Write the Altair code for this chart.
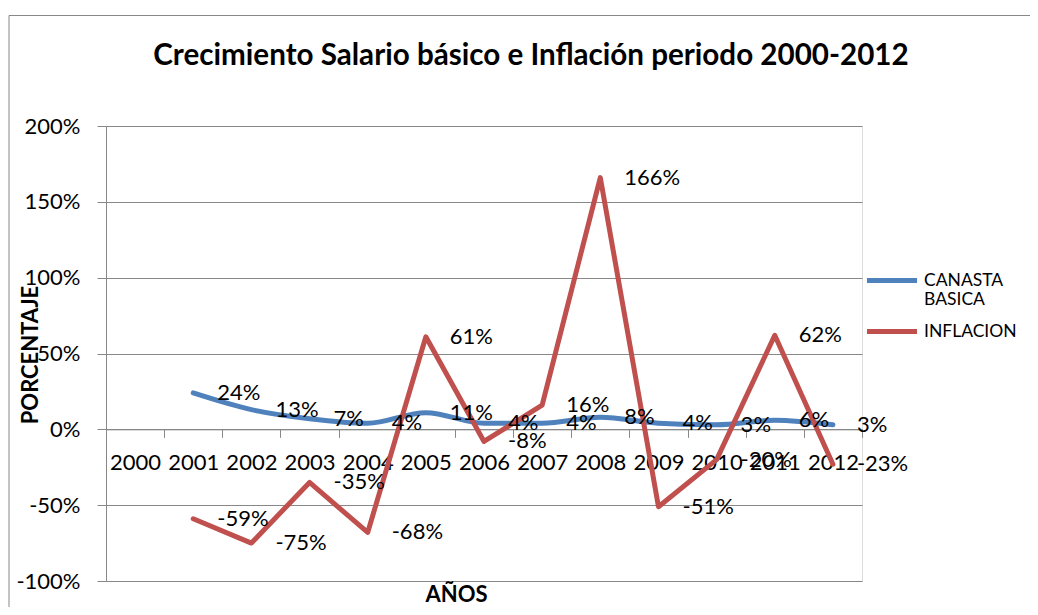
import altair as alt
import pandas as pd

# ---- data ----
years_axis = [str(y) for y in range(2000, 2013)]
years = [str(y) for y in range(2001, 2013)]
canasta = [0.24, 0.13, 0.07, 0.04, 0.11, 0.04, 0.04, 0.08, 0.04, 0.03, 0.06, 0.03]
inflacion = [-0.59, -0.75, -0.35, -0.68, 0.61, -0.08, 0.16, 1.66, -0.51, -0.20, 0.62, -0.23]
series_names = ["CANASTA BASICA", "INFLACION"]
series_colors = ["#4F81BD", "#C0504D"]
y_ticks = [-1, -0.5, 0, 0.5, 1, 1.5, 2]

df = pd.DataFrame({
    "year": years + years,
    "value": canasta + inflacion,
    "series": [series_names[0]] * len(years) + [series_names[1]] * len(years),
})

FONT = "Lato"
GRID = "#888888"
W, H = 756, 455

x_enc = alt.X(
    "year:O",
    scale=alt.Scale(type="band", domain=years_axis, paddingInner=0, paddingOuter=0),
    axis=alt.Axis(
        title="AÑOS", tickBand="extent", offset=-H / 3, labelAngle=0,
        labelOverlap=False, labelFont=FONT, labelFontSize=22, labelColor="black",
        labelBaseline="middle", labelPadding=25, tickSize=8, tickColor=GRID,
        domainColor=GRID, grid=False,
        titleFont=FONT, titleFontSize=22, titleFontWeight="bold", titleColor="black",
        titleX=350, titleY=165, titleBaseline="middle", titleAlign="center",
    ),
)
y_enc = alt.Y(
    "value:Q",
    scale=alt.Scale(domain=[-1, 2], nice=False, zero=False),
    axis=alt.Axis(
        values=y_ticks, labelExpr="round(datum.value*100) + '%'",
        labelFont=FONT, labelFontSize=22, labelColor="black", labelPadding=17,
        labelBaseline="middle",
        tickSize=9, tickColor=GRID, domainColor=GRID, grid=True, gridColor=GRID,
        gridWidth=1,
        title="PORCENTAJE", titleFont=FONT, titleFontSize=22, titleFontWeight="bold",
        titleColor="black", titleAngle=270, titleX=-76, titleY=H / 2 + 1,
        titleBaseline="middle", titleAlign="center",
    ),
)
color_enc = alt.Color(
    "series:N",
    scale=alt.Scale(domain=series_names, range=series_colors),
    legend=alt.Legend(
        orient="none", legendX=763.5, legendY=132, title=None,
        symbolType="M-1.25,0H1.25", symbolSize=1600, symbolStrokeWidth=5,
        labelFont=FONT, labelFontSize=17.5, labelColor="black", labelOffset=9.5,
        labelBaseline="middle", rowPadding=0, padding=0, gridAlign="each",
        labelExpr="datum.label == 'CANASTA BASICA' ? ['CANASTA', 'BASICA'] : datum.label",
    ),
)

base = alt.Chart(df)

blue = base.transform_filter(alt.datum.series == series_names[0]).mark_line(
    interpolate="monotone", strokeWidth=5, strokeJoin="round", strokeCap="round"
).encode(x=x_enc, y=y_enc, color=color_enc)

red = base.transform_filter(alt.datum.series == series_names[1]).mark_line(
    strokeWidth=5, strokeJoin="round", strokeCap="round"
).encode(x=x_enc, y=y_enc, color=color_enc)

labels = base.transform_calculate(
    label="round(datum.value*100) + '%'"
).mark_text(
    align="left", baseline="middle", dx=24, font=FONT, fontSize=22, color="black"
).encode(x=x_enc, y=y_enc, text="label:N")

frame = alt.Chart(pd.DataFrame({"f": [0]})).mark_rect(
    fill="transparent", stroke=GRID, strokeWidth=1
).encode(
    x=alt.value(-97), x2=alt.value(1000), y=alt.value(-110.5), y2=alt.value(600)
)

chart = alt.layer(frame, blue, red, labels).properties(
    width=W, height=H,
    title=alt.TitleParams(
        "Crecimiento Salario básico e Inflación periodo 2000-2012",
        font=FONT, fontSize=29.6, fontWeight="bold", color="black",
        anchor="middle", baseline="middle", dx=47, offset=-71,
    ),
    autosize=alt.AutoSizeParams(type="none"),
    padding={"left": 98, "top": 118, "right": 168, "bottom": 26},
).configure_view(stroke=None).configure(background="white")

chart.save("out.html", embed_options={"renderer": "svg", "actions": False})
